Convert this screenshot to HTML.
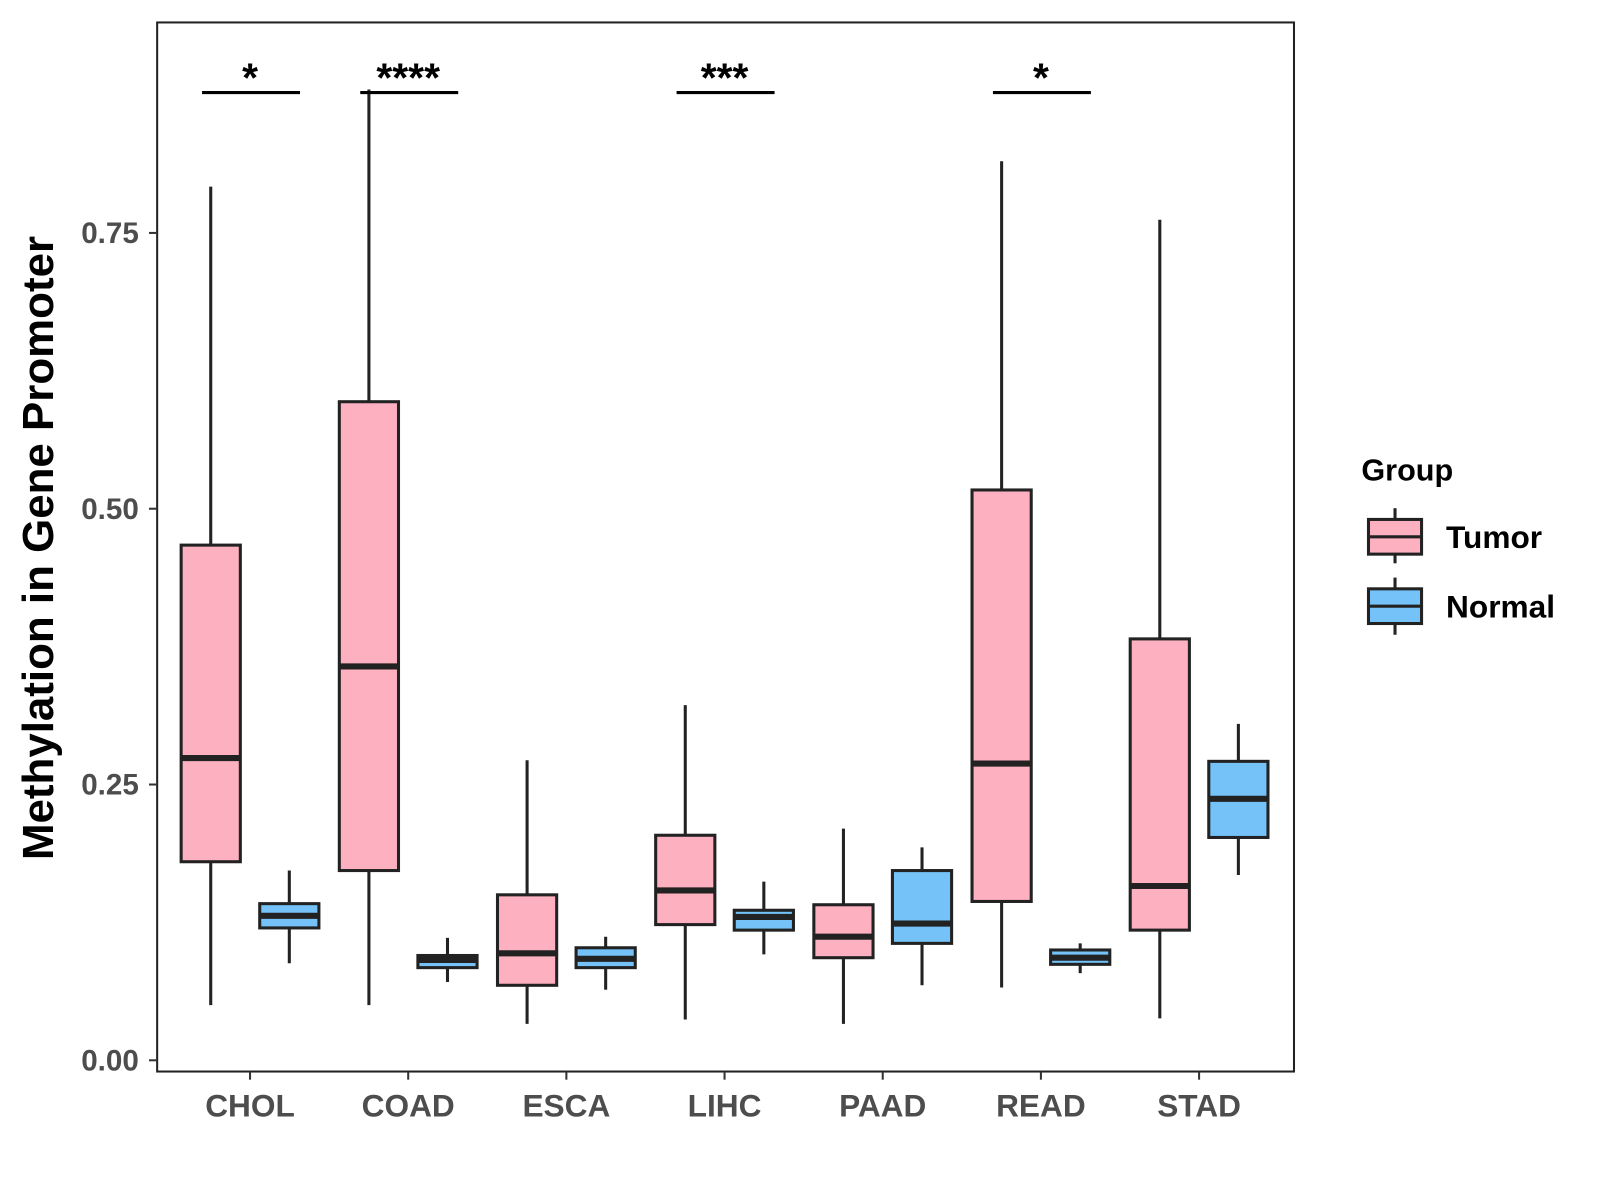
<!DOCTYPE html>
<html><head><meta charset="utf-8"><style>
body{margin:0;background:#fff}
svg{display:block;font-family:"Liberation Sans",Arial,sans-serif}
</style></head><body>
<svg id="chart" width="1600" height="1200" viewBox="0 0 1600 1200">
<g transform="scale(1.0205)">
<rect x="154" y="22" width="1114" height="1028" fill="#fff" stroke="#222" stroke-width="2"/>
<g id="yaxis"></g>
<g id="xaxis"></g>
<g id="boxes"></g>
<g id="sig"></g>
<text x="52" y="537" transform="rotate(-90 52 537)" text-anchor="middle" font-size="43" font-weight="bold" fill="#000">Methylation in Gene Promoter</text>
<g>
<text x="1334" y="471" font-size="30" font-weight="bold" fill="#000">Group</text>
<g>
<line x1="1367" y1="498" x2="1367" y2="552" stroke="#222" stroke-width="3"/>
<rect x="1341" y="509" width="52" height="34" fill="#FDB0C0" stroke="#222" stroke-width="3"/>
<line x1="1341" y1="526" x2="1393" y2="526" stroke="#222" stroke-width="3"/>
<text x="1417" y="537" font-size="31" font-weight="bold" fill="#000">Tumor</text>
</g>
<g>
<line x1="1367" y1="566" x2="1367" y2="622" stroke="#222" stroke-width="3"/>
<rect x="1341" y="577" width="52" height="34" fill="#74C2F8" stroke="#222" stroke-width="3"/>
<line x1="1341" y1="594" x2="1393" y2="594" stroke="#222" stroke-width="3"/>
<text x="1417" y="605" font-size="31" font-weight="bold" fill="#000">Normal</text>
</g>
</g>
</g>
</svg>
<script>
const categories=["CHOL","COAD","ESCA","LIHC","PAAD","READ","STAD"];
const tumorLow=[0.050,0.050,0.033,0.037,0.033,0.066,0.038];
const tumorQ1=[0.180,0.172,0.068,0.123,0.093,0.144,0.118];
const tumorMed=[0.274,0.357,0.097,0.154,0.112,0.269,0.158];
const tumorQ3=[0.467,0.597,0.150,0.204,0.141,0.517,0.382];
const tumorHigh=[0.792,0.880,0.272,0.322,0.210,0.815,0.762];
const normalLow=[0.088,0.071,0.064,0.096,0.068,0.079,0.168];
const normalQ1=[0.120,0.084,0.084,0.118,0.106,0.087,0.202];
const normalMed=[0.131,0.091,0.092,0.130,0.124,0.093,0.237];
const normalQ3=[0.142,0.095,0.102,0.136,0.172,0.100,0.271];
const normalHigh=[0.172,0.111,0.112,0.162,0.193,0.106,0.305];
const yTicks=[0,0.25,0.5,0.75];
const yTickLabels=["0.00","0.25","0.50","0.75"];
const sigLabels=["*","****","","***","","*",""];
const sigLevel=0.880;

const NS="http://www.w3.org/2000/svg";
function y(v){return 1039-v*1081;}
function xc(i){return 245+i*155;}
function mk(tag,attrs,parent){const e=document.createElementNS(NS,tag);for(const k in attrs)e.setAttribute(k,attrs[k]);parent.appendChild(e);return e;}
const ya=document.getElementById('yaxis'),xa=document.getElementById('xaxis'),bx=document.getElementById('boxes'),sg=document.getElementById('sig');
yTicks.forEach((t,i)=>{
  const l=mk('line',{x1:146,x2:154,y1:y(t),y2:y(t),stroke:'#333','stroke-width':2},ya);
  
  
  const tx=mk('text',{x:136,y:y(t)+10,'text-anchor':'end','font-size':29,'font-weight':'bold',fill:'#4d4d4d'},ya);
  tx.textContent=yTickLabels[i];
  
  
});
categories.forEach((c,i)=>{
  const l=mk('line',{x1:xc(i),x2:xc(i),y1:1050,y2:1058,stroke:'#333','stroke-width':2},xa);
  
  
  const tx=mk('text',{x:xc(i),y:1094,'text-anchor':'middle','font-size':31,'font-weight':'bold',fill:'#4d4d4d'},xa);
  tx.textContent=c;
  
  
  const groups=[[-38.5,'#FDB0C0',tumorLow,tumorQ1,tumorMed,tumorQ3,tumorHigh,'tumor'],[38.5,'#74C2F8',normalLow,normalQ1,normalMed,normalQ3,normalHigh,'normal']];
  groups.forEach(g=>{
    const cx=xc(i)+g[0];
    const G=mk('g',{},bx);
    
    
    mk('line',{x1:cx,x2:cx,y1:y(g[6][i]),y2:y(g[2][i]),stroke:'#222','stroke-width':3},G);
    mk('rect',{x:cx-29,y:y(g[5][i]),width:58,height:y(g[3][i])-y(g[5][i]),fill:g[1],stroke:'#222','stroke-width':3},G);
    mk('line',{x1:cx-29,x2:cx+29,y1:y(g[4][i]),y2:y(g[4][i]),stroke:'#222','stroke-width':6},G);
  });
  if(sigLabels[i]){
    const G=mk('g',{},sg);
    
    
    mk('line',{x1:xc(i)-47,x2:xc(i)+49,y1:y(sigLevel)+3,y2:y(sigLevel)+3,stroke:'#000','stroke-width':3},G);
    const t=mk('text',{x:xc(i),y:y(sigLevel)+2,'text-anchor':'middle','font-size':40,'font-weight':'bold',fill:'#000'},G);
    t.textContent=sigLabels[i];
  }
});
</script>
</body></html>
